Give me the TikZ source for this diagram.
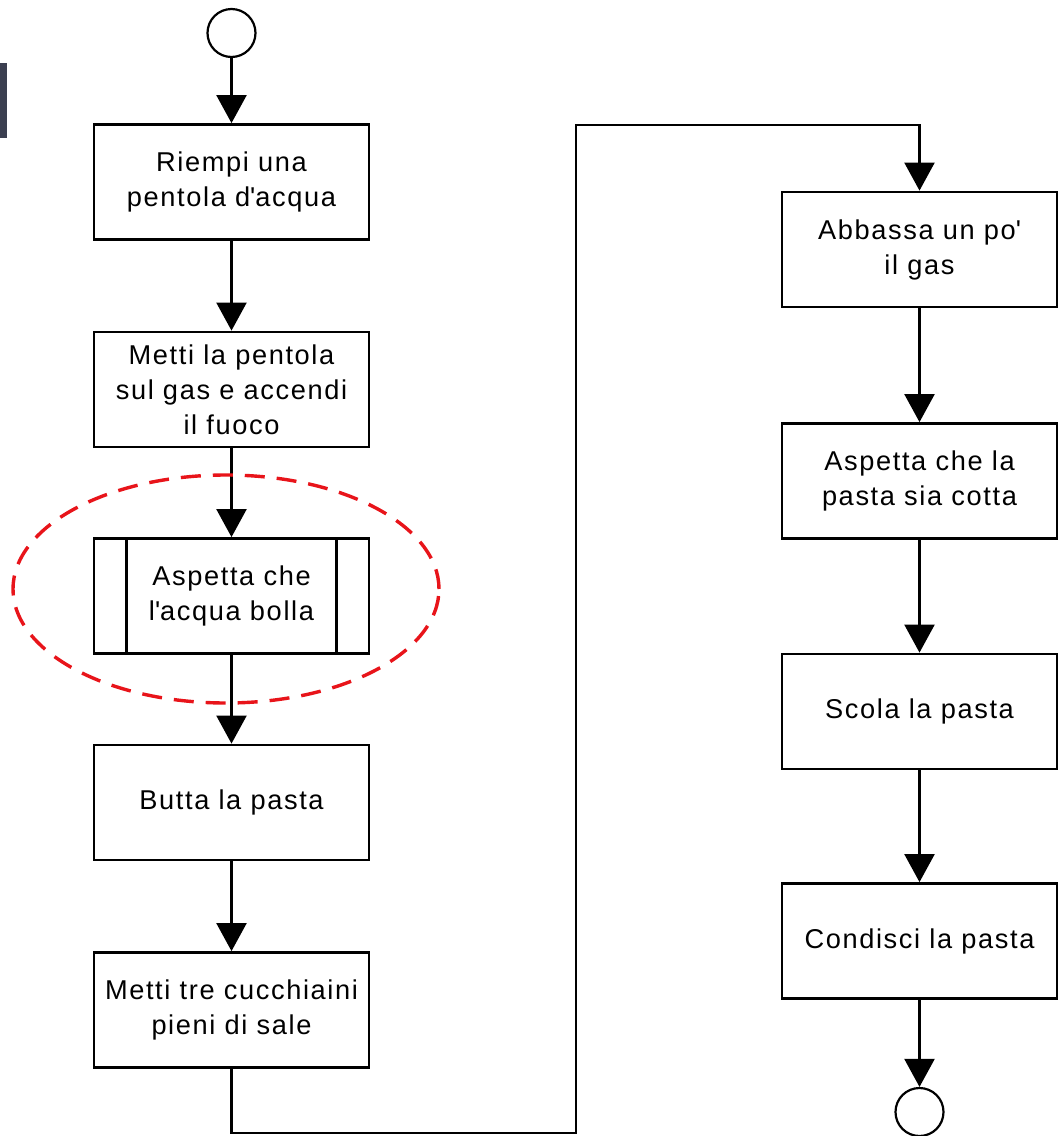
\documentclass[tikz,border=0pt]{standalone}
\usepackage{fontspec}
\setmainfont{Liberation Sans}[LetterSpace=6]
\usetikzlibrary{arrows.meta}
\definecolor{barcol}{HTML}{3B3F50}
\definecolor{markred}{HTML}{E8141A}
\newcommand{\apos}{\textquotesingle}
\begin{document}
\begin{tikzpicture}[x=0.5pt,y=-0.5pt,
  stepbox/.style={draw, line width=1.4pt, rectangle, minimum width=137.5pt,
    minimum height=57.5pt, align=center, inner sep=0pt,
    font=\fontsize{13.6pt}{17.5pt}\selectfont},
  termcircle/.style={draw, circle, line width=1.1pt, minimum size=24pt, inner sep=0pt},
  flow/.style={line width=1.1pt, -{Triangle[width=15pt,length=14pt]}},
]
\fill[white] (0,0) rectangle (1058,1136);
\useasboundingbox (0,0) rectangle (1058,1136);
\fill[barcol] (0,63) rectangle (7,138);

% left column
\node[termcircle] (start) at (231.5,33) {};
\node[stepbox] (b1) at (231.5,182) {Riempi una\\pentola d\apos acqua};
\node[stepbox] (b2) at (231.5,389.5) {Metti la pentola\\sul gas e accendi\\il fuoco};
\node[stepbox] (b3) at (231.5,596) {Aspetta che\\l\apos acqua bolla};
\draw[line width=1.4pt] ([xshift=17pt]b3.north west) -- ([xshift=17pt]b3.south west);
\draw[line width=1.4pt] ([xshift=-17pt]b3.north east) -- ([xshift=-17pt]b3.south east);
\node[stepbox] (b4) at (231.5,802.5) {Butta la pasta};
\node[stepbox] (b5) at (231.5,1010) {Metti tre cucchiaini\\pieni di sale};

% right column
\node[stepbox] (b6) at (919.5,249.5) {Abbassa un po\apos\\il gas};
\node[stepbox] (b7) at (919.5,481) {Aspetta che la\\pasta sia cotta};
\node[stepbox] (b8) at (919.5,711.5) {Scola la pasta};
\node[stepbox] (b9) at (919.5,941) {Condisci la pasta};
\node[termcircle] (stop) at (919.5,1112) {};

% connectors
\draw[flow] (start) -- (b1);
\draw[flow] (b1) -- (b2);
\draw[flow] (b2) -- (b3);
\draw[flow] (b3) -- (b4);
\draw[flow] (b4) -- (b5);
\coordinate (c1) at (231.5,1133);
\coordinate (c2) at (576,125);
\draw[flow] (b5.south) -- (c1) -| (c2) -| (b6.north);
\draw[flow] (b6) -- (b7);
\draw[flow] (b7) -- (b8);
\draw[flow] (b8) -- (b9);
\draw[flow] (b9) -- (stop);

% highlight around the waiting step
\draw[markred, line width=1.7pt, dash pattern=on 10pt off 6pt]
  (226,589) ellipse [x radius=106.5pt, y radius=57pt];
\end{tikzpicture}
\end{document}
